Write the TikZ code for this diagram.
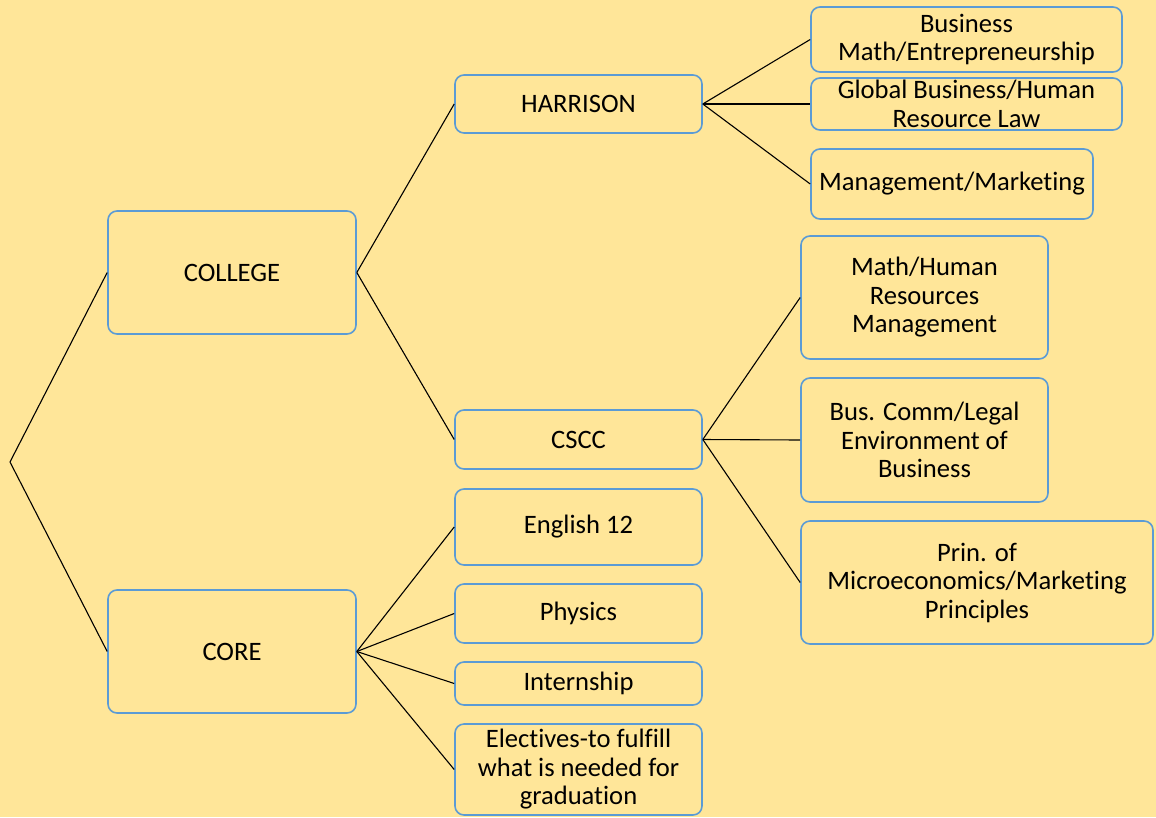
\documentclass[tikz,border=0pt]{standalone}
\usepackage{fontspec}
\setmainfont{Carlito}[Ligatures=NoCommon]
\definecolor{bgyellow}{HTML}{FFE699}
\definecolor{boxblue}{HTML}{5B9BD5}
\tikzset{
	box/.style={draw=boxblue, line width=1.6pt, rounded corners=9pt, fill=bgyellow, align=center, inner sep=0pt, font=\fontsize{26.6}{28.5}\selectfont},
	link/.style={draw=black, line width=1.1pt}
}
\begin{document}
\begin{tikzpicture}[x=1pt, y=-1pt]
		\fill[bgyellow] (0, 0) rectangle (1156, 817);
		\useasboundingbox (0, 0) rectangle (1156, 817);
		\coordinate (root) at (10, 462);
		\node[box, minimum width=248, minimum height=123] (college) at (232, 272.5) {COLLEGE};
		\node[box, minimum width=248, minimum height=123] (core) at (232, 651.5) {CORE};
		\node[box, minimum width=247, minimum height=58] (harrison) at (578.5, 104) {HARRISON};
		\node[box, minimum width=247, minimum height=59] (cscc) at (578.5, 439.5) {CSCC};
		\node[box, minimum width=247, minimum height=76] (english) at (578.5, 527) {English 12};
		\node[box, minimum width=247, minimum height=59] (physics) at (578.5, 613.5) {Physics};
		\node[box, minimum width=247, minimum height=43] (intern) at (578.5, 683.5) {Internship};
		\node[box, minimum width=247, minimum height=91] (electives) at (578.5, 769.5) {Electives-to fulfill\\what is needed for\\graduation};
		\node[box, minimum width=311, minimum height=65] (busmath) at (966.5, 39.5) {Business\\Math/Entrepreneurship};
		\node[box, minimum width=311, minimum height=52] (global) at (966.5, 104) {Global Business/Human\\Resource Law};
		\node[box, minimum width=282, minimum height=70] (mgmt) at (952, 184) {Management/Marketing};
		\node[box, minimum width=247, minimum height=123] (mathhr) at (924.5, 297.5) {Math/Human\\Resources\\Management};
		\node[box, minimum width=247, minimum height=124] (buscomm) at (924.5, 440) {Bus. Comm/Legal\\Environment of\\Business};
		\node[box, minimum width=352, minimum height=123] (prin) at (977, 582.5) {Prin. of\\Microeconomics/Marketing\\Principles};
		% connectors
		\draw[link] (college.west) -- (root) -- (core.west);
		\foreach \n in {harrison, cscc}
			\draw[link] (college.east) -- (\n.west);
		\foreach \n in {english, physics, intern, electives}
			\draw[link] (core.east) -- (\n.west);
		\foreach \n in {busmath, global, mgmt}
			\draw[link] (harrison.east) -- (\n.west);
		\foreach \n in {mathhr, buscomm, prin}
			\draw[link] (cscc.east) -- (\n.west);
	\end{tikzpicture}
\end{document}
